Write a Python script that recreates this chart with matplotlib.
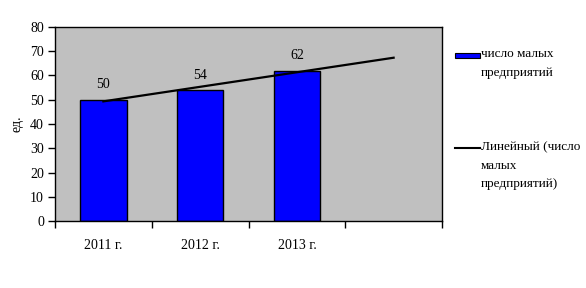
import numpy as np
import matplotlib.pyplot as plt
from matplotlib.patches import Rectangle
from matplotlib.lines import Line2D

plt.rcParams['font.family'] = ['Liberation Serif', 'DejaVu Serif']
plt.rcParams['font.size'] = 10

years = ["2011 г.", "2012 г.", "2013 г."]
values = [50, 54, 62]
y_label = "ед."
bar_name = "число малых\nпредприятий"
trend_name = "Линейный (число\nмалых\nпредприятий)"

fig = plt.figure(figsize=(5.86, 2.88), dpi=100)
ax = fig.add_axes([55/586, 67/288, 387/586, 194/288])
ax.set_facecolor("#c0c0c0")

x = np.arange(len(values))
ax.bar(x, values, width=0.48, color="#0000ff", edgecolor="black", linewidth=1, zorder=2)
for xi, v in zip(x, values):
    ax.text(xi, v + 3.5, str(v), ha="center", va="bottom", zorder=4)

# linear trend, forecast forward one period
k, b = np.polyfit(x + 1, values, 1)
xt = np.array([1, len(values) + 1])
ax.plot(xt - 1, k * xt + b, color="black", lw=1.6, zorder=3)

ax.set_xlim(-0.5, 3.5)
ax.set_ylim(0, 80)
ax.set_yticks(range(0, 81, 10))
ax.set_xticks(x)
ax.set_xticklabels(years)
ax.set_xticks(np.arange(-0.5, 3.6, 1), minor=True)
ax.tick_params(axis="x", which="major", length=0, pad=13)
ax.tick_params(axis="x", which="minor", length=5, width=1, direction="out")
ax.tick_params(axis="y", length=5, width=1, direction="out", pad=3)
for s in ax.spines.values():
    s.set_linewidth(1)
ax.set_ylabel(y_label, labelpad=5)

# legend drawn by hand to keep the handles on the first line
fig.add_artist(Rectangle((455/586, 1 - 58/288), 25/586, 5/288, transform=fig.transFigure,
                         facecolor="#0000ff", edgecolor="black", linewidth=0.8))
fig.text(481/586, 1 - 48/288, bar_name, va="top", ha="left", fontsize=9.5, linespacing=1.75)
fig.add_artist(Line2D([455/586, 480/586], [1 - 148/288, 1 - 148/288],
                      transform=fig.transFigure, color="black", lw=1.5))
fig.text(481/586, 1 - 141/288, trend_name, va="top", ha="left", fontsize=9.5, linespacing=1.75)

fig.savefig("out.png", dpi=100)
